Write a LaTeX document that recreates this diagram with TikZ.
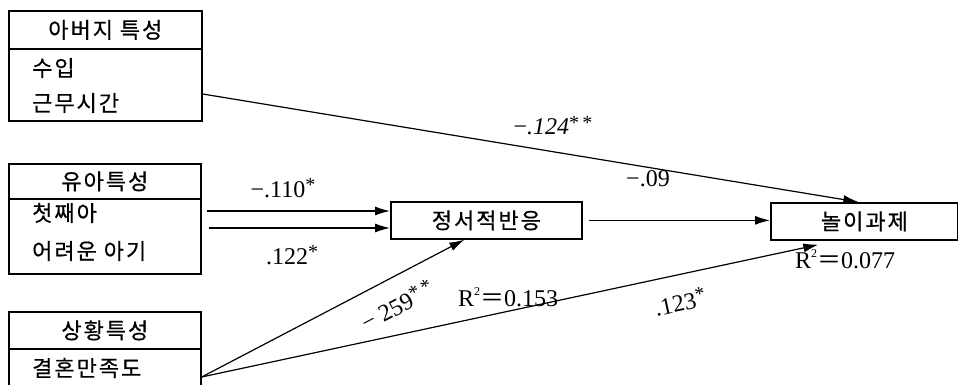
\documentclass[tikz,border=0pt]{standalone}
\usepackage{fontspec}
\setmainfont{Liberation Serif}
\newfontfamily\kr[LetterSpace=9,FakeBold=0.5]{Noto Sans CJK KR}
\newfontfamily\krsym{Noto Sans CJK KR}
\usetikzlibrary{arrows.meta,calc}
\begin{document}
\begin{tikzpicture}[x=1pt,y=-1pt,
  boxline/.style={draw,line width=1.7pt,inner sep=0pt,anchor=north west},
  ktext/.style={font=\kr\fontsize{22}{24}\selectfont,inner sep=0pt},
  num/.style={font=\fontsize{24}{26}\selectfont,inner sep=1pt},
  arr/.style={line width=1.2pt,-{Latex[length=15pt,width=9pt]}},
  ln/.style={line width=1.2pt}]
\useasboundingbox (0,0) rectangle (958,385);
% father box
\node[boxline,minimum width=193pt,minimum height=38pt] (fh) at (8,10) {};
\node[boxline,minimum width=193pt,minimum height=72pt] (fb) at (8,48) {};
\node[ktext] (fht) at (fh.center) {아버지 특성};
\node[ktext,anchor=west] (f1) at (32,68) {수입};
\node[ktext,anchor=west] (f2) at (32,103) {근무시간};
% child box
\node[boxline,minimum width=192pt,minimum height=35pt] (ch) at (8,163) {};
\node[boxline,minimum width=192pt,minimum height=75pt] (cb) at (8,198) {};
\node[ktext] (cht) at (ch.center) {유아특성};
\node[ktext,anchor=west] (c1) at (32,213) {첫째아};
\node[ktext,anchor=west] (c2) at (32,251) {어려운 아기};
% situation box
\node[boxline,minimum width=192pt,minimum height=37pt] (sh) at (8,311) {};
\node[boxline,minimum width=192pt,minimum height=50pt] (sb) at (8,348) {};
\node[ktext] (sht) at (sh.center) {상황특성};
\node[ktext,anchor=west] (s1) at (32,368) {결혼만족도};
% middle boxes
\node[boxline,minimum width=191pt,minimum height=37pt] (emo) at (390,201) {};
\node[ktext] (emot) at (emo.center) {정서적반응};
\node[boxline,minimum width=187pt,minimum height=37pt] (play) at (770,202) {};
\node[ktext] (playt) at (play.center) {놀이과제};
% arrow start points
\coordinate (a1s) at (207,211);
\coordinate (a2s) at (209,228);
\coordinate (fs) at (fb.east |- 0,94);
\coordinate (ss) at (sb.east |- 0,377);
\coordinate (emoin) at ($(emo.south)+(-22,0)$);
\coordinate (playin1) at ($(play.north)+(-6,0)$);
\coordinate (playin2) at ($(play.south)+(-46,4)$);
\draw[arr] (a1s) -- (a1s -| emo.west);
\draw[arr] (a2s) -- (a2s -| emo.west);
\draw[arr] ($(emo.east)+(6,0)$) -- (play.west |- emo.east);
\draw[arr] (fs) -- (playin1);
\draw[arr] (ss) -- (emoin);
\draw[arr] (ss) -- (playin2);
% labels
\node[num] (l124) at (553,126) {−\textit{.124}\raisebox{0.2em}{\fontsize{20}{20}\selectfont *\,*}};
\node[num] (l110) at (283,188) {−.110\raisebox{0.25em}{\fontsize{20}{20}\selectfont *}};
\node[num] (l122) at (292,255) {.122\raisebox{0.25em}{\fontsize{20}{20}\selectfont *}};
\node[num] (l09) at (648,179) {−.09};
\node[num] (r077) at (845,259) {R\raisebox{0.45em}{\fontsize{12}{12}\selectfont 2}{\krsym ＝}0.077};
\node[num,rotate=27.5] (l259) at (397,305) {− 259\raisebox{0.25em}{\fontsize{20}{20}\selectfont *\,*}};
\node[num] (r153) at (508,297) {R\raisebox{0.45em}{\fontsize{12}{12}\selectfont 2}{\krsym ＝}0.153};
\node[num,rotate=12] (l123) at (680,302) {.123\raisebox{0.25em}{\fontsize{20}{20}\selectfont *}};
\end{tikzpicture}
\end{document}
